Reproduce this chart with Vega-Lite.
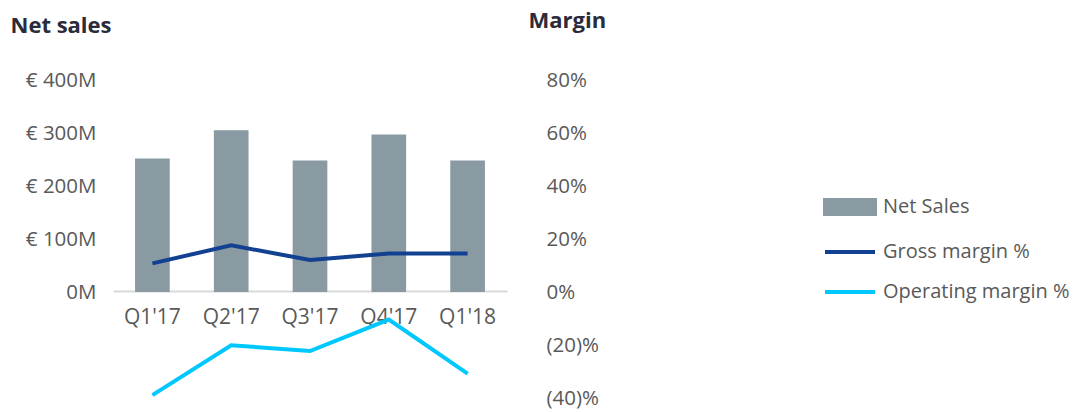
{
  "$schema": "https://vega.github.io/schema/vega-lite/v6.json",
  "width": 394,
  "height": 318,
  "autosize": {"type": "none"},
  "padding": {"left": 113, "top": 80, "right": 571, "bottom": 14},
  "background": "white",
  "config": {
    "view": {"stroke": null},
    "font": "Open Sans",
    "axis": {"labelFont": "Open Sans", "labelFontSize": 20.5, "labelColor": "#595959", "grid": false, "ticks": false, "titleFont": "Open Sans", "titleFontSize": 22, "titleFontWeight": "bold", "titleColor": "#2b2b3a"},
    "legend": {"labelFont": "Open Sans", "labelFontSize": 20, "labelColor": "#595959"}
  },
  "data": {
    "values": [
      {"quarter": "Q1'17", "net_sales": 252, "gross_margin": 10.8, "operating_margin": -38.9},
      {"quarter": "Q2'17", "net_sales": 305, "gross_margin": 17.6, "operating_margin": -20.1},
      {"quarter": "Q3'17", "net_sales": 248, "gross_margin": 12.1, "operating_margin": -22.3},
      {"quarter": "Q4'17", "net_sales": 297, "gross_margin": 14.5, "operating_margin": -10.4},
      {"quarter": "Q1'18", "net_sales": 248, "gross_margin": 14.5, "operating_margin": -30.8}
    ]
  },
  "encoding": {
    "x": {
      "field": "quarter", "type": "nominal", "sort": null,
      "scale": {"paddingInner": 0.56, "paddingOuter": 0.28},
      "axis": {"title": null, "labelAngle": 0, "offset": -107, "domainColor": "#d9d9d9", "domainWidth": 2, "labelPadding": 15, "labelFontSize": 21}
    }
  },
  "layer": [
    {
      "mark": {"type": "bar"},
      "encoding": {
        "y": {
          "field": "net_sales", "type": "quantitative",
          "scale": {"domain": [-200, 400], "nice": false, "zero": false},
          "axis": {
            "title": "Net sales", "titleAngle": 0, "titleAlign": "left", "titleBaseline": "alphabetic",
            "titleX": -103, "titleY": -48,
            "values": [0, 100, 200, 300, 400], "domain": false, "labelPadding": 17,
            "labelExpr": "datum.value == 0 ? '0M' : '€ ' + datum.value + 'M'"
          }
        },
        "color": {
          "datum": "Net Sales", "type": "nominal", "title": null,
          "scale": {"domain": ["Net Sales", "Gross margin %", "Operating margin %"], "range": ["#8a9aa3", "#124191", "#00c8ff"]},
          "legend": {
            "title": null, "orient": "none", "legendX": 710, "legendY": 100,
            "rowPadding": 3, "symbolSize": 2500, "labelOffset": 6, "labelLimit": 400,
            "symbolStrokeWidth": 4,
            "encode": {
              "symbols": {
                "update": {
                  "shape": {"signal": "datum.value === 'Net Sales' ? 'M-1,-0.28L1,-0.28L1,0.28L-1,0.28Z' : 'stroke'"},
                  "fill": {"signal": "datum.value === 'Net Sales' ? '#8a9aa3' : 'transparent'"},
                  "stroke": {"signal": "datum.value === 'Net Sales' ? 'transparent' : datum.value === 'Gross margin %' ? '#124191' : '#00c8ff'"},
                  "strokeWidth": {"value": 4},
                  "opacity": {"value": 1}
                }
              }
            }
          }
        }
      }
    },
    {
      "transform": [{"fold": ["gross_margin", "operating_margin"], "as": ["series", "margin"]},
                    {"calculate": "datum.series == 'gross_margin' ? 'Gross margin %' : 'Operating margin %'", "as": "series_label"}],
      "mark": {"type": "line", "strokeWidth": 4},
      "encoding": {
        "y": {
          "field": "margin", "type": "quantitative",
          "scale": {"domain": [-40, 80], "nice": false, "zero": false},
          "axis": {
            "orient": "right",
            "title": "Margin", "titleAngle": 0, "titleAlign": "left", "titleBaseline": "alphabetic",
            "titleX": 21, "titleY": -53,
            "values": [-40, -20, 0, 20, 40, 60, 80], "domain": false, "labelPadding": 39, "labelAlign": "left",
            "labelExpr": "datum.value < 0 ? '(' + abs(datum.value) + ')%' : datum.value + '%'"
          }
        },
        "color": {"field": "series_label", "type": "nominal", "title": null}
      }
    }
  ],
  "resolve": {"scale": {"y": "independent"}}
}
